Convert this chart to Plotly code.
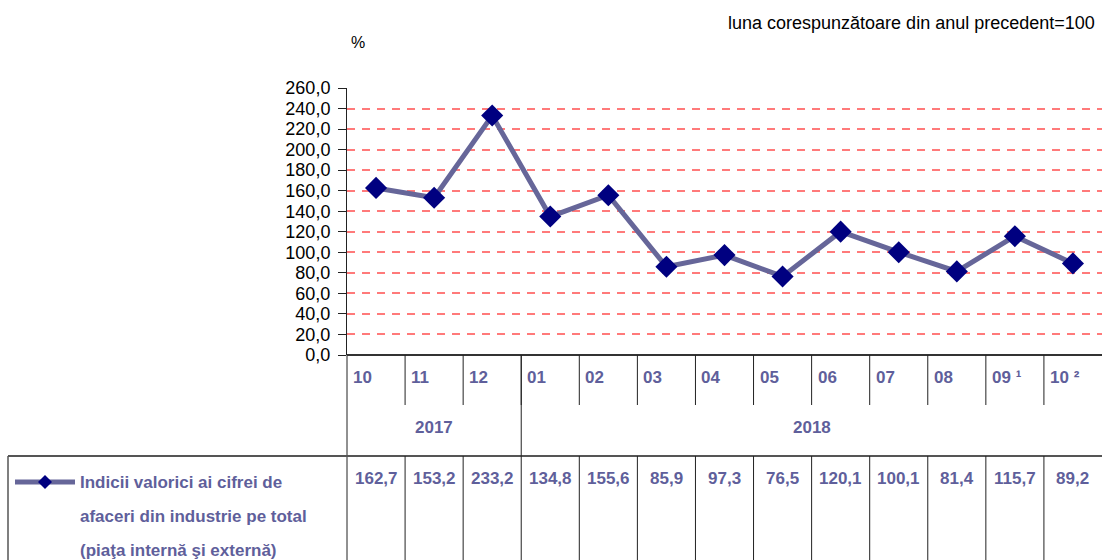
import plotly.graph_objects as go

# ---- data ----
months = ["10", "11", "12", "01", "02", "03", "04", "05", "06", "07", "08", "09 ¹", "10 ²"]
year_labels = ["2017", "2018"]
year_spans = [(0, 2), (3, 12)]
values = [162.7, 153.2, 233.2, 134.8, 155.6, 85.9, 97.3, 76.5, 120.1, 100.1, 81.4, 115.7, 89.2]
y_ticks = [0, 20, 40, 60, 80, 100, 120, 140, 160, 180, 200, 220, 240, 260]
series_name = ["Indicii valorici ai cifrei de", "afaceri din industrie pe total", "(piaţa internă şi externă)"]
unit_label = "%"
note_label = "luna corespunzătoare din anul precedent=100"

# ---- layout geometry (pixels) ----
W, H = 1102, 560
PL, PR, PT, PB = 347, 1102, 88, 355
FONT = "Liberation Sans, Arial, sans-serif"
TXT = "#5f5f9b"
LINE = "#666699"
MARK = "#000080"
n = len(months)


def xp(px):
    return (px - PL) / (PR - PL)


def yp(py):
    return (PB - py) / (PB - PT)


def fmt(v):
    return f"{v:.1f}".replace(".", ",")


fig = go.Figure()
fig.add_trace(go.Scatter(
    x=list(range(n)), y=values, mode="lines+markers",
    line=dict(color=LINE, width=5),
    marker=dict(symbol="diamond", size=17, color=MARK),
    showlegend=False, cliponaxis=False, hoverinfo="skip",
))

shapes = []
ann = []

def hline(py, x0, x1, color="#333", w=1.5):
    shapes.append(dict(type="line", xref="paper", yref="paper", x0=xp(x0), x1=xp(x1),
                       y0=yp(py), y1=yp(py), line=dict(color=color, width=w)))

def vline_x(xi, py0, py1, color="#222", w=1):
    shapes.append(dict(type="line", xref="x", yref="paper", x0=xi, x1=xi,
                       y0=yp(py0), y1=yp(py1), line=dict(color=color, width=w)))

# y axis continuation down through the table
shapes.append(dict(type="line", xref="paper", yref="paper", x0=0, x1=0, y0=0, y1=yp(560),
                   line=dict(color="#222", width=1)))
# horizontal table lines
hline(PB, PL, PR, "#333", 2)
hline(456, 8, PR, "#555", 2)
# legend box left border
shapes.append(dict(type="line", xref="paper", yref="paper", x0=xp(8), x1=xp(8),
                   y0=yp(456), y1=yp(560), line=dict(color="#555", width=1.5)))

# month separators
for i in range(1, n):
    b = i - 0.5
    vline_x(b, PB, 405)
    vline_x(b, 456, 560)
# year separator
vline_x(year_spans[1][0] - 0.5, PB, 456)

# month labels
for i, m in enumerate(months):
    ann.append(dict(x=i - 0.5, y=yp(377), xref="x", yref="paper", text=f"<b>{m}</b>",
                    xanchor="left", yanchor="middle", xshift=4, showarrow=False,
                    font=dict(family=FONT, size=17, color=TXT)))
# year labels
for lab, (a, b) in zip(year_labels, year_spans):
    ann.append(dict(x=(a + b) / 2, y=yp(427), xref="x", yref="paper", text=f"<b>{lab}</b>",
                    xanchor="center", yanchor="middle", showarrow=False,
                    font=dict(family=FONT, size=17, color=TXT)))
# value row
for i, v in enumerate(values):
    ann.append(dict(x=i, y=yp(478), xref="x", yref="paper", text=f"<b>{fmt(v)}</b>",
                    xanchor="center", yanchor="middle", showarrow=False,
                    font=dict(family=FONT, size=17, color=TXT)))

# legend
shapes.append(dict(type="line", xref="paper", yref="paper", x0=xp(15), x1=xp(75),
                   y0=yp(482), y1=yp(482), line=dict(color=LINE, width=5)))
cx, cy, d = 45, 482, 7
shapes.append(dict(type="path", xref="paper", yref="paper",
                   path=f"M {xp(cx - d)} {yp(cy)} L {xp(cx)} {yp(cy - d)} L {xp(cx + d)} {yp(cy)} L {xp(cx)} {yp(cy + d)} Z",
                   fillcolor=MARK, line=dict(color=MARK, width=0)))
for k, (t, py) in enumerate(zip(series_name, [482, 516, 550])):
    ann.append(dict(x=xp(78), y=yp(py), xref="paper", yref="paper", text=f"<b>{t}</b>",
                    xanchor="left", yanchor="middle", showarrow=False,
                    font=dict(family=FONT, size=17, color=TXT)))

# unit and note
ann.append(dict(x=xp(349), y=yp(42), xref="paper", yref="paper", text=unit_label,
                xanchor="left", yanchor="middle", showarrow=False,
                font=dict(family=FONT, size=16, color="#000")))
ann.append(dict(x=xp(1097), y=yp(23), xref="paper", yref="paper", text=note_label,
                xanchor="right", yanchor="middle", showarrow=False,
                font=dict(family=FONT, size=18, color="#000")))

fig.update_layout(
    width=W, height=H,
    margin=dict(l=PL, r=W - PR, t=PT, b=H - PB, pad=0),
    paper_bgcolor="white", plot_bgcolor="white",
    separators=", ",
    hovermode=False,
    shapes=shapes, annotations=ann,
    xaxis=dict(range=[-0.5, n - 0.5], showticklabels=False, showgrid=False, zeroline=False,
               showline=False, ticks="", fixedrange=True),
    yaxis=dict(range=[0, 260], tickvals=y_ticks, tickformat=".1f", showgrid=True,
               gridcolor="#ff7a7a", griddash="8px,7px", gridwidth=2, zeroline=False,
               showline=True, linecolor="#222", linewidth=1, ticks="outside", ticklen=8,
               ticklabelstandoff=4, fixedrange=True,
               tickcolor="#222", tickfont=dict(family=FONT, size=18, color="#000")),
)

fig.write_html("out.html", config={"displayModeBar": False, "staticPlot": True},
               post_script="document.body.style.margin='0';document.body.style.overflow='hidden';")
